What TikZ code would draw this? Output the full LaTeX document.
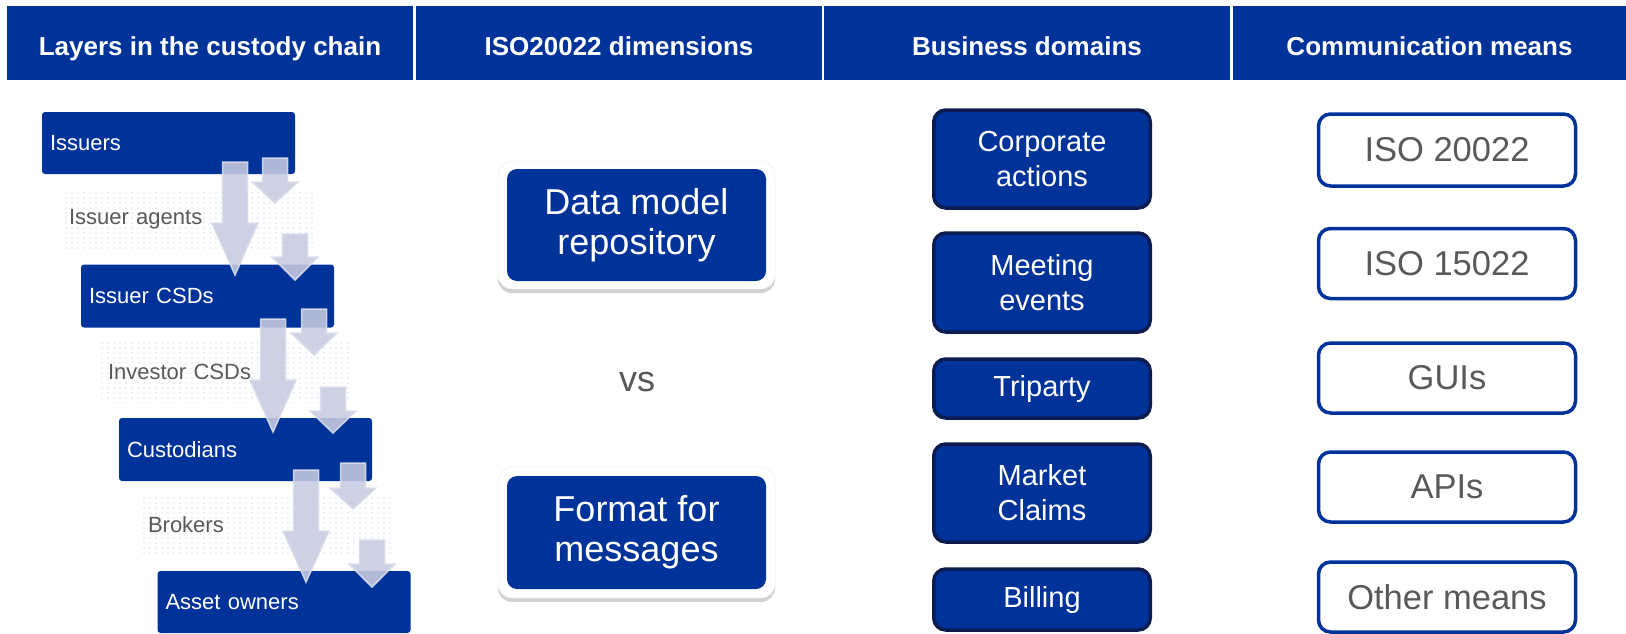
\documentclass[tikz,border=0pt]{standalone}
\usepackage{fontspec}
\setmainfont{Liberation Sans}
\usetikzlibrary{shadows,patterns}
\definecolor{ecbblue}{RGB}{0,51,153}
\definecolor{navyedge}{RGB}{12,28,80}
\definecolor{txtgray}{RGB}{89,89,89}
\definecolor{arrowfill}{RGB}{200,203,224}
\definecolor{arrowedge}{RGB}{218,220,234}
\definecolor{dotblue}{RGB}{172,196,232}
\pgfdeclarepatternformonly{sparsedots}{\pgfqpoint{-1pt}{-1pt}}{\pgfqpoint{1pt}{1pt}}{\pgfqpoint{6pt}{5pt}}{\pgfpathcircle{\pgfqpoint{0pt}{0pt}}{0.7pt}\pgfusepath{fill}}
\newcommand{\setfs}[2]{\fontsize{#1}{#2}\selectfont}
\newcommand{\blkarrow}[4]{%
  \filldraw[arrowsty] ({#1-12.5},#2) -- ({#1+12.5},#2) -- ({#1+12.5},#3) -- ({#1+23},#3) -- (#1,#4) -- ({#1-23},#3) -- ({#1-12.5},#3) -- cycle;}
\begin{document}
\begin{tikzpicture}[x=1pt,y=-1pt,
  hdr/.style={fill=ecbblue, text=white, inner sep=0pt, text height=24pt, text depth=0pt, minimum height=74pt, font=\bfseries\setfs{26}{30}},
  layerbox/.style={fill=ecbblue, text=white, rounded corners=3pt, inner xsep=8pt, inner ysep=0pt, text width=237pt, align=left, minimum height=62pt, font=\setfs{22}{26}},
  labelbox/.style={pattern=sparsedots, pattern color=dotblue, text=txtgray, inner xsep=7pt, inner ysep=0pt, text width=237pt, align=left, minimum height=60pt, font=\setfs{22}{26}},
  arrowsty/.style={fill=arrowfill, draw=arrowedge, line width=1.5pt, fill opacity=0.88, draw opacity=0.9, line join=miter},
  frame/.style={fill=white, draw=black!8, rounded corners=14pt, minimum width=277pt, drop shadow={shadow xshift=0pt, shadow yshift=-4pt, opacity=0.18, fill=black}},
  dimbox/.style={fill=ecbblue, text=white, rounded corners=10pt, minimum width=259pt, align=center, inner sep=0pt, font=\setfs{36}{40}},
  bizbox/.style={fill=ecbblue, draw=navyedge, line width=3.5pt, rounded corners=12pt, minimum width=216.5pt, text=white, align=center, inner sep=0pt, font=\setfs{29}{35}},
  commbox/.style={fill=white, draw=ecbblue, line width=3.5pt, rounded corners=12pt, minimum width=257pt, minimum height=70pt, text=txtgray, align=center, inner sep=0pt, font=\setfs{34.5}{38}}
]
\useasboundingbox (0,0) rectangle (1626,633);
\fill[white] (0,0) rectangle (1626,633);

% headers
\node[hdr, minimum width=406pt] (h1) at (210,43) {Layers in the custody chain};
\node[hdr, minimum width=406pt] (h2) at (619,43) {ISO20022 dimensions};
\node[hdr, minimum width=406pt] (h3) at (1027,43) {Business domains};
\node[hdr, minimum width=393pt] (h4) at (1429.5,43) {Communication means};

% custody chain: dotted label bands
\node[labelbox] (agents) at (187.5,219) {Issuer agents};
\node[labelbox] (invcsd) at (226.5,372) {Investor CSDs};
\node[labelbox] (brokers) at (266.5,525) {Brokers};

% custody chain: blue layers
\node[layerbox] (issuers) at (168.5,143) {Issuers};
\node[layerbox, minimum height=63pt] (isscsd) at (207.5,296) {Issuer CSDs};
\node[layerbox, minimum height=63pt] (custod) at (245.5,449.5) {Custodians};
\node[layerbox] (owners) at (284,602) {Asset owners};

% block arrows
\blkarrow{235}{162}{223}{275}
\blkarrow{275}{158}{182}{203}
\blkarrow{295}{234}{257}{280}
\blkarrow{273}{319}{380}{432}
\blkarrow{314}{309}{333}{355}
\blkarrow{333}{387}{411}{433}
\blkarrow{306}{470}{531}{582}
\blkarrow{353}{463}{488}{509}
\blkarrow{372}{540}{564}{587}

% ISO20022 dimensions
\node[frame, minimum height=128pt] (dmframe) at (636.5,225) {};
\node[dimbox, minimum height=112pt] (dm) at (636.5,225) {Data model\\repository};
\node[text=txtgray, font=\setfs{36}{40}, inner sep=0pt] (vs) at (637,382) {vs};
\node[frame, minimum height=131pt] (ffframe) at (636.5,532.5) {};
\node[dimbox, minimum height=113pt] (ff) at (636.5,532.5) {Format for\\messages};

% business domains
\node[bizbox, minimum height=98pt] (corp) at (1042,159) {Corporate\\actions};
\node[bizbox, minimum height=99pt] (meet) at (1042,282.5) {Meeting\\events};
\node[bizbox, minimum height=59pt] (tri) at (1042,388.5) {Triparty};
\node[bizbox, minimum height=98pt] (claims) at (1042,493) {Market\\Claims};
\node[bizbox, minimum height=61pt] (bill) at (1042,599.5) {Billing};

% communication means
\node[commbox, minimum height=72pt] (iso2) at (1447,150) {ISO 20022};
\node[commbox] (iso1) at (1447,263.5) {ISO 15022};
\node[commbox] (gui) at (1447,378) {GUIs};
\node[commbox] (api) at (1447,487) {APIs};
\node[commbox] (other) at (1447,597) {Other means};
\end{tikzpicture}
\end{document}
